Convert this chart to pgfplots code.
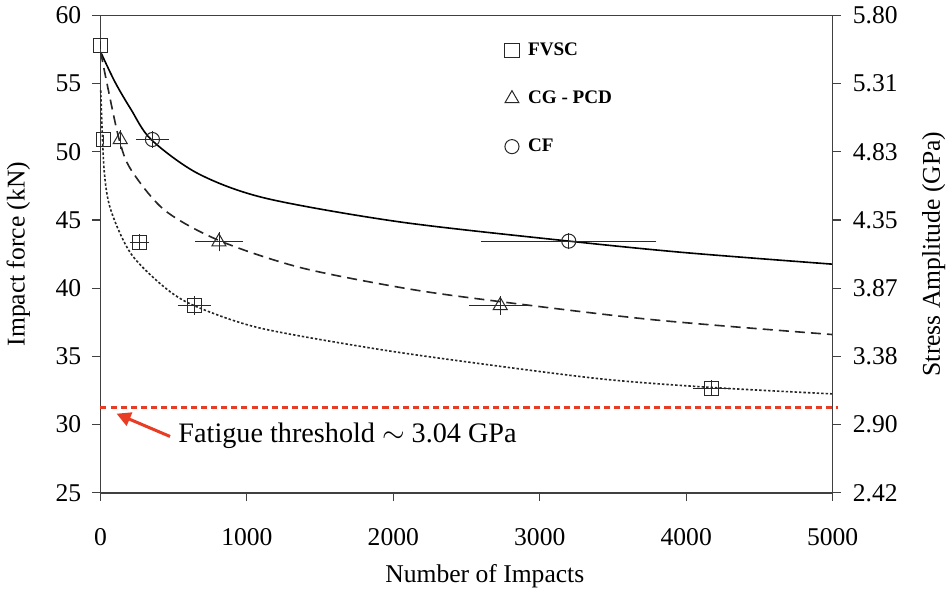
\documentclass[border=0pt]{standalone}
\usepackage{fontspec}
\setmainfont{Liberation Serif}
\usepackage{pgfplots}
\pgfplotsset{compat=1.18}
\usetikzlibrary{arrows.meta}
\definecolor{axgray}{RGB}{64,64,64}
\definecolor{thred}{RGB}{232,60,36}
\definecolor{mkgray}{RGB}{40,40,40}

\begin{document}
\begin{tikzpicture}
\pgfplotsset{
    every axis/.append style={
        width=363.5pt, height=237pt, scale only axis,
        xmin=0, xmax=5000, ymin=25, ymax=60,
        tick align=outside,
        major tick length=4pt,
        axis line style={axgray, line width=0.8pt},
        every tick/.style={axgray, line width=0.6pt},
        tick label style={font=\fontsize{12.7}{15}\selectfont},
        label style={font=\fontsize{12.7}{15}\selectfont},
        /pgf/number format/assume math mode=true,
    },
}
\begin{axis}[
    xtick={0,1000,...,5000},
    ytick={25,30,...,60},
    xtick pos=bottom, ytick pos=left,
    scaled x ticks=false,
    xticklabel style={/pgf/number format/1000 sep={}, yshift=-10pt},
    yticklabel style={xshift=-2pt},
    xlabel={Number of Impacts},
    ylabel={Impact force (kN)},
    xlabel style={at={(axis description cs:0.525,-0.175)}, anchor=center},
    ylabel style={at={(axis description cs:-0.112,0.5)}, anchor=center},
    clip=false,
    legend style={at={(axis cs:2718,58.6)}, anchor=north west, draw=none, fill=none,
        font=\bfseries\fontsize{9.5}{11}\selectfont, row sep=12pt,
        /tikz/every odd column/.append style={column sep=2.5pt}},
    legend cell align=left,
]
% fitted curves
\addplot[black, line width=0.8pt, smooth, tension=0.5, forget plot] coordinates {
    (2,57.3) (100,55.1) (209,53.1) (346,50.9) (667,48.4)
    (1126,46.6) (2043,44.86) (3200,43.45) (4000,42.6) (5000,41.76)
};
\addplot[black!85, line width=0.8pt, dash pattern=on 5pt off 3pt, smooth, tension=0.5, forget plot] coordinates {
    (2,57.3) (48,54.83) (128,50.9) (209,48.68) (438,45.72) (809,43.5)
    (1355,41.54) (2043,40.06) (2593,39.2) (3762,37.7) (5000,36.6)
};
\addplot[black!85, line width=0.8pt, dash pattern=on 1.2pt off 1pt, smooth, tension=0.5, forget plot] coordinates {
    (2,54.5) (25,48.68) (71,45.72) (209,42.52) (438,40.06) (644,38.7)
    (1080,37.1) (1836,35.63) (2500,34.6) (3418,33.35) (4175,32.72) (5000,32.25)
};
% fatigue threshold
\addplot[thred, line width=1.3pt, dash pattern=on 3pt off 2pt, forget plot] coordinates {
    (0,31.27) (5034,31.27)
};
% measured points
\addplot[only marks, mark=square, mark size=3.5pt, mkgray, line width=0.5pt,
    error bars/.cd, x dir=both, y dir=both, x explicit, y explicit,
    error bar style={line width=0.4pt, mkgray},
    error mark options={mark size=2pt, line width=0.4pt, mkgray}]
    coordinates {
    (0,57.8) +- (0,0)
    (20,50.9) +- (0,0)
    (266,43.38) +- (40,0.3)
    (640,38.73) +- (85,0.4)
    (4175,32.67) +- (100,0.3)
};
\addlegendentry{FVSC}
\addplot[only marks, mark=triangle, mark size=4pt, mkgray, line width=0.5pt,
    error bars/.cd, x dir=both, y dir=both, x explicit, y explicit,
    error bar style={line width=0.4pt, mkgray},
    error mark options={mark size=2pt, line width=0.4pt, mkgray}]
    coordinates {
    (135,50.9) +- (0,0.4)
    (809,43.4) +- (135,0.4)
    (2730,38.73) +- (185,0.4)
};
\addlegendentry{CG - PCD}
\addplot[only marks, mark=o, mark size=3.5pt, mkgray, line width=0.5pt,
    error bars/.cd, x dir=both, y dir=both, x explicit, y explicit,
    error bar style={line width=0.4pt, mkgray},
    error mark options={mark size=2pt, line width=0.4pt, mkgray}]
    coordinates {
    (355,50.9) +- (85,0.3)
    (3198,43.45) +- (570,0.3)
};
\addlegendentry{CF}
\draw[thred, line width=1.5pt, -{Triangle[length=7pt,width=7pt]}]
    (axis cs:475,29.13) -- (axis cs:110,30.8);
\node[anchor=west, font=\fontsize{14}{16}\selectfont, inner sep=0pt]
    at (axis cs:530,29.2) {Fatigue threshold $\sim$ 3.04 GPa};
\end{axis}
\begin{axis}[
    axis x line=none,
    axis y line*=right,
    ytick={25,30,...,60},
    yticklabels={2.42,2.90,3.38,3.87,4.35,4.83,5.31,5.80},
    yticklabel style={xshift=2.5pt},
    ylabel={Stress Amplitude (GPa)},
    ylabel style={at={(axis description cs:1.138,0.5)}, anchor=center, rotate=0},
]
\addplot[draw=none, forget plot] coordinates {(0,25) (5000,60)};
\end{axis}
\end{tikzpicture}
\end{document}
